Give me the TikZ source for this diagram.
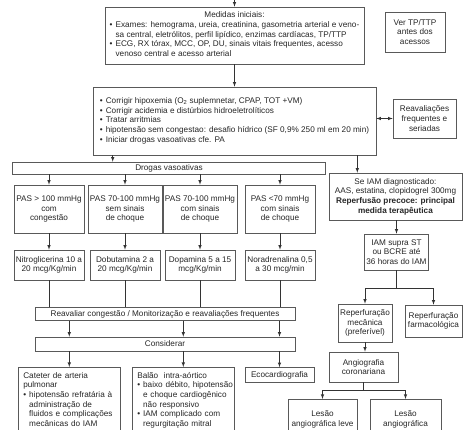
\documentclass[tikz,border=0pt]{standalone}
\usepackage{fontspec}
\setmainfont{Liberation Sans}

\newenvironment{blist}{\begin{tabular}[t]{@{}l@{\hspace{3pt}}l@{}}}{\end{tabular}}

\tikzset{
  box/.style={draw=black!65, line width=0.6pt, inner sep=2pt, align=center, text=black!85, font=\fontsize{8.2}{9.6}\selectfont},
  flow/.style={draw=black!80, line width=0.6pt, ->, >=latex},
  link/.style={draw=black!80, line width=0.6pt}
}

\begin{document}
\begin{tikzpicture}[x=1pt,y=-1pt]
\useasboundingbox (0,0) rectangle (474,430);
\clip (0,0) rectangle (474,430);

\coordinate (in) at (234.5,-5);
\node[box, minimum width=259, minimum height=57] (med) at (234.5,35.5) {Medidas iniciais:\\
\begin{blist}
\textbullet & Exames: hemograma, ureia, creatinina, gasometria arterial e veno-\\
 & sa central, eletrólitos, perfil lipídico, enzimas cardíacas, TP/TTP\\
\textbullet & ECG, RX tórax, MCC, OP, DU, sinais vitais frequentes, acesso\\
 & venoso central e acesso arterial
\end{blist}};
\node[box, minimum width=60, minimum height=40] (ver) at (415,32) {Ver TP/TTP\\antes dos\\acessos};

\node[box, minimum width=283, minimum height=68] (cor) at (234.5,121) {\begin{blist}
\textbullet & Corrigir hipoxemia (O\textsubscript{2} suplemnetar, CPAP, TOT +VM)\\
\textbullet & Corrigir acidemia e distúrbios hidroeletrolíticos\\
\textbullet & Tratar arritmias\\
\textbullet & hipotensão sem congestao: desafio hídrico (SF 0,9\% 250 ml em 20 min)\\
\textbullet & Iniciar drogas vasoativas cfe. PA
\end{blist}};
\node[box, minimum width=63, minimum height=39] (reav) at (424.5,118.5) {Reavaliações\\frequentes e\\seriadas};

% drogas vasoativas
\node[box, minimum width=313, minimum height=12] (drog) at (169,168) {Drogas vasoativas};
\node[box, minimum width=70, minimum height=48] (pas1) at (49,209) {PAS > 100 mmHg\\com\\congestão};
\node[box, minimum width=70, minimum height=48] (pas2) at (125,209) {PAS 70-100 mmHg\\sem sinais\\de choque};
\node[box, minimum width=70, minimum height=48] (pas3) at (200,209) {PAS 70-100 mmHg\\com sinais\\de choque};
\node[box, minimum width=70, minimum height=48] (pas4) at (280,209) {PAS <70 mmHg\\com sinais\\de choque};
\node[box, minimum width=70, minimum height=30] (dr1) at (49,265) {Nitroglicerina 10 a\\20 mcg/Kg/min};
\node[box, minimum width=70, minimum height=30] (dr2) at (125,265) {Dobutamina 2 a\\20 mcg/Kg/min};
\node[box, minimum width=70, minimum height=30] (dr3) at (200,265) {Dopamina 5 a 15\\mcg/Kg/min};
\node[box, minimum width=70, minimum height=30] (dr4) at (280,265) {Noradrenalina 0,5\\a 30 mcg/min};

\node[box, minimum width=260, minimum height=13] (reval) at (165,314) {Reavaliar congestão / Monitorização e reavaliações frequentes};
\node[box, minimum width=260, minimum height=14] (cons) at (165,344) {Considerar};

\node[box, align=left, text width=92, inner xsep=5pt, inner ysep=5pt, anchor=north west] (cat) at (18,367) {Cateter de arteria\\pulmonar\\
\begin{blist}
\textbullet & hipotensão refratária à\\
 & administração de\\
 & fluidos e complicações\\
 & mecânicas do IAM\\[30pt]
\end{blist}};
\node[box, align=left, text width=92, inner xsep=5pt, inner ysep=5pt, anchor=north west] (balao) at (132,367) {Balão\ \ intra-aórtico\\
\begin{blist}
\textbullet & baixo débito, hipotensão\\
 & e choque cardiogênico\\
 & não responsivo\\
\textbullet & IAM complicado com\\
 & regurgitação mitral\\[30pt]
\end{blist}};
\node[box, minimum width=69, minimum height=15] (eco) at (279.5,375) {Ecocardiografia};

% ramo do IAM
\node[box, minimum width=133, minimum height=47] (iam) at (395.5,196.5) {Se IAM diagnosticado:\\AAS, estatina, clopidogrel 300mg\\\textbf{Reperfusão precoce: principal}\\\textbf{medida terapêutica}};
\node[box, minimum width=59, minimum height=36] (supra) at (396.5,252) {IAM supra ST\\ou BCRE até\\36 horas do IAM};
\node[box, minimum width=54, minimum height=38] (mec) at (365,323) {Reperfuração\\mecânica\\(preferível)};
\node[box, minimum width=57, minimum height=32] (farm) at (433.5,321) {Reperfuração\\farmacológica};
\node[box, minimum width=69, minimum height=30] (angio) at (363.5,367) {Angiografia\\coronariana};
\node[box, minimum width=69, minimum height=40, anchor=north] (leve) at (322.5,399) {Lesão\\angiográfica leve};
\node[box, minimum width=71, minimum height=40, anchor=north] (lesao) at (405.5,399) {Lesão\\angiográfica};

\draw[flow] (in) -- (med);
\draw[flow] (med) -- (cor);
\draw[flow,<->] (cor.east |- reav.west) -- (reav.west);
\draw[flow] ([xshift=20pt]cor.south west) -- ([xshift=20pt]cor.south west |- drog.north);
\draw[flow] ([xshift=-19pt]cor.south east) -- ([xshift=-19pt]cor.south east |- iam.north);

\draw[flow] (drog.south -| pas1.north) -- (pas1.north);
\draw[flow] (drog.south -| pas2.north) -- (pas2.north);
\draw[flow] (drog.south -| pas3.north) -- (pas3.north);
\draw[flow] (drog.south -| pas4.north) -- (pas4.north);
\draw[flow] (pas1) -- (dr1);
\draw[flow] (pas2) -- (dr2);
\draw[flow] (pas3) -- (dr3);
\draw[flow] (pas4) -- (dr4);
\draw[link] (dr1) -- (dr1.south |- reval.north);
\draw[link] (dr2) -- (dr2.south |- reval.north);
\draw[link] (dr3) -- (dr3.south |- reval.north);
\draw[link] (dr4) -- (dr4.south |- reval.north);

\draw[flow] (reval.south -| cat.north) -- (cons.north -| cat.north);
\draw[flow] (reval.south -| balao.north) -- (cons.north -| balao.north);
\draw[flow] (reval.south -| eco.north) -- (cons.north -| eco.north);
\draw[flow] (cons.south -| cat.north) -- (cat.north);
\draw[flow] (cons.south -| balao.north) -- (balao.north);
\draw[flow] (cons.south -| eco.north) -- (eco.north);

\draw[flow] (iam.south -| supra.north) -- (supra.north);
\draw[flow] (supra.south) -- ++(0,18) -| (mec.north);
\draw[flow] (supra.south) -- ++(0,18) -| (farm.north);
\draw[flow] (mec.south) -- (mec.south |- angio.north);
\draw[flow] (angio.south) -- ++(0,8) -| (leve.north);
\draw[flow] (angio.south) -- ++(0,8) -| (lesao.north);
\end{tikzpicture}
\end{document}
